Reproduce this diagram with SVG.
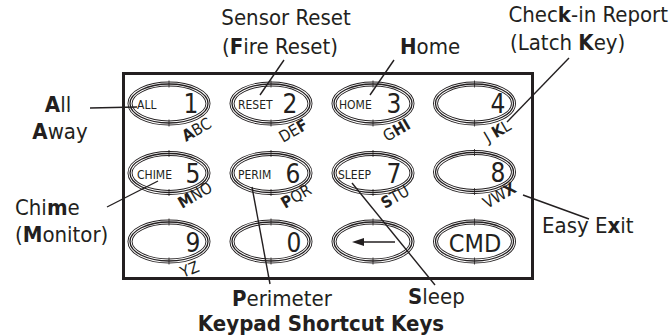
<svg xmlns="http://www.w3.org/2000/svg" xmlns:xlink="http://www.w3.org/1999/xlink" width="671" height="336" viewBox="0 0 671 336">
<defs>
<style>
text{font-family:"DejaVu Sans Condensed","DejaVu Sans",sans-serif;font-stretch:condensed;fill:#231f20}
.lbl{font-size:22px}
.b{font-weight:bold}
.small{font-size:12px}
.dig{font-size:26px;text-anchor:middle}
.abc{font-size:16px}
.conn{stroke:#231f20;stroke-width:1.4;fill:none}
</style>
<g id="key">
<ellipse cx="0" cy="0" rx="39" ry="19.5" fill="none" stroke="#231f20" stroke-width="5"/>
<ellipse cx="0" cy="0" rx="39" ry="19.5" fill="none" stroke="#fff" stroke-width="3.2"/>
<ellipse cx="0" cy="0" rx="39" ry="19.5" fill="none" stroke="#231f20" stroke-width="1.3"/>
<line x1="0" y1="-23" x2="0" y2="-16" stroke="#231f20" stroke-width="0.8"/>
<line x1="0" y1="16" x2="0" y2="23" stroke="#231f20" stroke-width="0.8"/>
</g>
</defs>
<rect x="0" y="0" width="671" height="336" fill="#fff"/>
<rect id="keypad" x="123.5" y="73.5" width="409" height="205" fill="none" stroke="#231f20" stroke-width="3"/>

<g id="key1"><use xlink:href="#key" x="169" y="103.5"/><text class="small" x="137" y="109">ALL</text><text class="dig" x="191" y="113">1</text><text class="abc" transform="translate(186,142) rotate(-30)"><tspan class="b">A</tspan>BC</text></g>
<g id="key2"><use xlink:href="#key" x="271" y="103.5"/><text class="small" x="238" y="109">RESET</text><text class="dig" x="290" y="113">2</text><text class="abc" transform="translate(283,143) rotate(-30)">DE<tspan class="b">F</tspan></text></g>
<g id="key3"><use xlink:href="#key" x="373" y="103.5"/><text class="small" x="339" y="109">HOME</text><text class="dig" x="394" y="113">3</text><text class="abc" transform="translate(387,142) rotate(-30)">G<tspan class="b">HI</tspan></text></g>
<g id="key4"><use xlink:href="#key" x="474.5" y="103.5"/><text class="dig" x="498" y="113">4</text><text class="abc" transform="translate(488,143) rotate(-30)">J <tspan class="b">K</tspan>L</text></g>

<g id="key5"><use xlink:href="#key" x="169" y="173"/><text class="small" x="137" y="179">CHIME</text><text class="dig" x="193" y="183">5</text><text class="abc" transform="translate(182,209) rotate(-30)"><tspan class="b">M</tspan>NO</text></g>
<g id="key6"><use xlink:href="#key" x="271" y="173"/><text class="small" x="238" y="179">PERIM</text><text class="dig" x="293" y="183">6</text><text class="abc" transform="translate(285,209) rotate(-30)"><tspan class="b">P</tspan>QR</text></g>
<g id="key7"><use xlink:href="#key" x="373" y="173"/><text class="small" x="338" y="179">SLEEP</text><text class="dig" x="394" y="183">7</text><text class="abc" transform="translate(385,209) rotate(-30)"><tspan class="b">S</tspan>TU</text></g>
<g id="key8"><use xlink:href="#key" x="474.5" y="172"/><text class="dig" x="498" y="182">8</text><text class="abc" transform="translate(487,209) rotate(-30)">VW<tspan class="b">X</tspan></text></g>

<g id="key9"><use xlink:href="#key" x="169" y="241.5"/><text class="dig" x="193" y="252">9</text><text class="abc" transform="translate(183,278) rotate(-22)">YZ</text></g>
<g id="key0"><use xlink:href="#key" x="271" y="241.5"/><text class="dig" x="294" y="252">0</text></g>
<g id="keyback"><use xlink:href="#key" x="373" y="241.5"/><line x1="362" y1="242" x2="395" y2="242" stroke="#231f20" stroke-width="1.5"/><polygon points="352,242 364,238 364,246" fill="#231f20"/></g>
<g id="keycmd"><use xlink:href="#key" x="474.5" y="241.5"/><text x="475" y="252" style="font-size:25px;text-anchor:middle">CMD</text></g>

<g id="connectors">
<line class="conn" x1="90" y1="108" x2="137" y2="107"/>
<line class="conn" x1="107" y1="207" x2="158" y2="181"/>
<line class="conn" x1="284" y1="60" x2="260" y2="95"/>
<line class="conn" x1="394" y1="60" x2="370" y2="95"/>
<line class="conn" x1="569" y1="58" x2="507" y2="122"/>
<line class="conn" x1="523" y1="195" x2="589" y2="219"/>
<line class="conn" x1="252" y1="187" x2="270" y2="284"/>
<line class="conn" x1="352" y1="183" x2="435" y2="285"/>
</g>

<g id="label-all"><text class="lbl" x="58" y="112" text-anchor="middle"><tspan class="b">A</tspan>ll</text><text class="lbl" x="60" y="139" text-anchor="middle"><tspan class="b">A</tspan>way</text></g>
<g id="label-chime"><text class="lbl" x="15" y="215">Chi<tspan class="b">m</tspan>e</text><text class="lbl" x="15" y="242">(<tspan class="b">M</tspan>onitor)</text></g>
<g id="label-reset"><text class="lbl" x="286" y="25" text-anchor="middle">Sensor Reset</text><text class="lbl" x="280" y="54" text-anchor="middle">(<tspan class="b">F</tspan>ire Reset)</text></g>
<g id="label-home"><text class="lbl" x="400" y="54"><tspan class="b">H</tspan>ome</text></g>
<g id="label-checkin"><text class="lbl" x="668" y="22" text-anchor="end">Chec<tspan class="b">k</tspan>-in Report</text><text class="lbl" x="510" y="50">(Latch <tspan class="b">K</tspan>ey)</text></g>
<g id="label-exit"><text class="lbl" x="542" y="233">Easy E<tspan class="b">x</tspan>it</text></g>
<g id="label-perimeter"><text class="lbl" x="232" y="306"><tspan class="b">P</tspan>erimeter</text></g>
<g id="label-sleep"><text class="lbl" x="408" y="304"><tspan class="b">S</tspan>leep</text></g>
<text class="lbl b" x="321" y="331" text-anchor="middle">Keypad Shortcut Keys</text>
</svg>
